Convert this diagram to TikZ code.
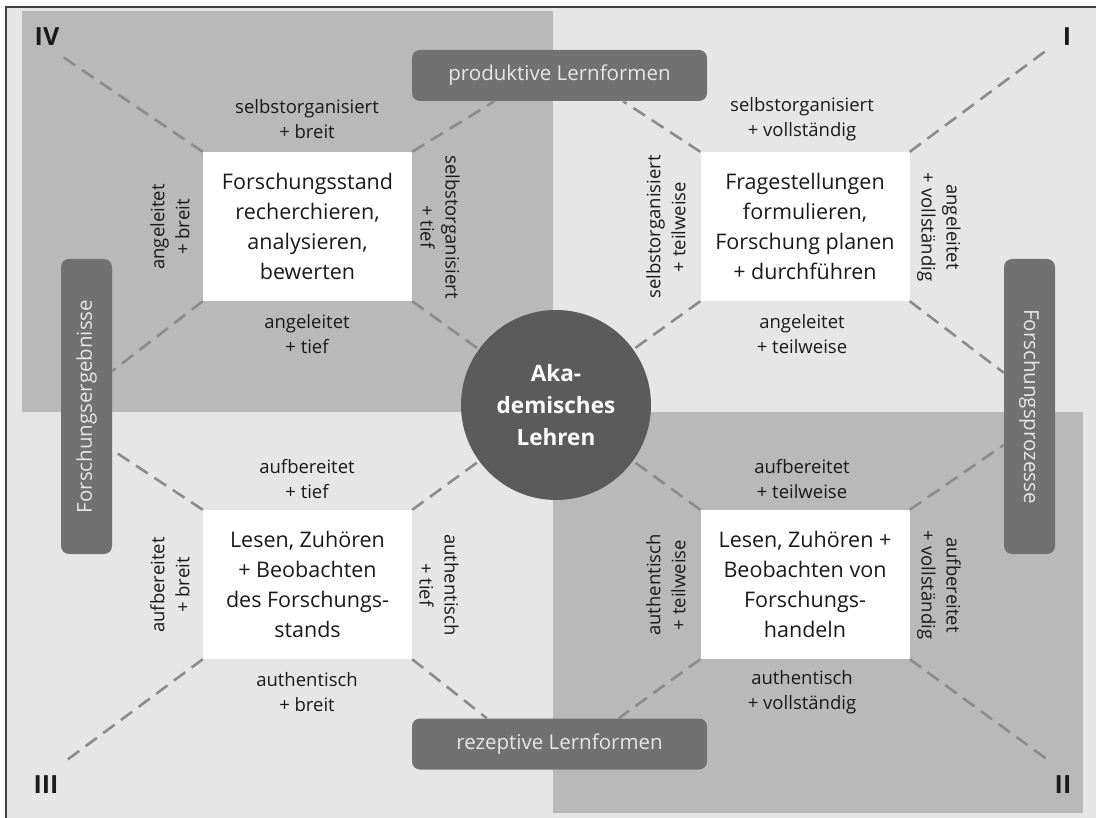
\documentclass[tikz,border=0pt]{standalone}
\usepackage{fontspec}
\setmainfont{Open Sans}
\usetikzlibrary{calc}
\definecolor{hell}{HTML}{E6E6E6}
\definecolor{mittel}{HTML}{B9B9B9}
\definecolor{kasten}{HTML}{717171}
\definecolor{kreis}{HTML}{5B5B5B}
\definecolor{strich}{HTML}{8C8C8C}
\definecolor{schrift}{HTML}{1A1A1A}

\begin{document}
\begin{tikzpicture}[x=1pt,y=-1pt,
    feld/.style={fill=white,minimum width=209pt,minimum height=149pt,inner sep=0pt,align=center,text=schrift,font=\fontsize{21.5}{30}\selectfont},
    lform/.style={fill=kasten,rounded corners=8pt,inner sep=0pt,text=hell,font=\fontsize{20.5}{24}\selectfont},
    lab/.style={align=center,text=schrift,font=\fontsize{18.5}{25}\selectfont},
    nr/.style={text=schrift,font=\fontsize{25}{25}\selectfont\bfseries},
    dashline/.style={strich,line width=2.6pt,dash pattern=on 14pt off 8pt}]
          \useasboundingbox (0,0) rectangle (1096,818);
          \fill[hell] (6,7) rectangle (1096,818);
          \fill[mittel] (22,11) rectangle (553,412);
          \fill[mittel] (553,412) rectangle (1083,813);
          \draw[black!75,line width=1.2pt] (1096,7)--(6,7)--(6,818);
          \node[lform,minimum width=295pt,minimum height=51pt] (P) at (559.5,75.5) {produktive Lernformen};
          \node[lform,minimum width=295pt,minimum height=51pt] (R) at (559.5,744) {rezeptive Lernformen};
          \node[lform,minimum width=51pt,minimum height=295pt] (E) at (86.5,406.5) {\rotatebox{90}{Forschungsergebnisse}};
          \node[lform,minimum width=51pt,minimum height=295pt] (Z) at (1029.5,406.5) {\rotatebox{-90}{Forschungsprozesse}};
          \node[circle,fill=kreis,minimum size=190pt,inner sep=0pt,align=center,text=white,font=\fontsize{22.5}{32}\selectfont\bfseries] (K) at (556,405) {Aka-\\demisches\\Lehren};
          \node[feld] (Q4) at (307.5,226.5) {Forschungsstand\\recherchieren,\\analysieren,\\bewerten};
          \node[feld] (Q1) at (805,226.5) {Fragestellungen\\formulieren,\\Forschung planen\\+ durchführen};
          \node[feld] (Q3) at (307.5,584.5) {Lesen, Zuhören\\+ Beobachten\\des Forschungs-\\stands};
          \node[feld] (Q2) at (805,584.5) {Lesen, Zuhören +\\Beobachten von\\Forschungs-\\handeln};
          \node[nr] (n4) at (47,37) {IV};
          \node[nr] (n1) at (1067,37) {I};
          \node[nr] (n3) at (46,785) {III};
          \node[nr] (n2) at (1063,785) {II};
          \coordinate (e4) at (60,55);
          \coordinate (e1) at (1047,50);
          \coordinate (e3) at (63,763);
          \coordinate (e2) at (1048,760);
          \draw[dashline] (Q4.north west)--(e4);
          \draw[dashline] (Q4.north east)--($(P.south west)!0.28!(P.south east)$);
          \draw[dashline] (Q4.south west)--($(E.north east)!0.38!(E.south east)$);
          \draw[dashline] (Q4.south east)--(K);
          \draw[dashline] (Q1.north west)--($(P.south west)!0.715!(P.south east)$);
          \draw[dashline] (Q1.north east)--(e1);
          \draw[dashline] (Q1.south west)--(K);
          \draw[dashline] (Q1.south east)--($(Z.north west)!0.386!(Z.south west)$);
          \draw[dashline] (Q3.north west)--($(E.north east)!0.647!(E.south east)$);
          \draw[dashline] (Q3.north east)--(K);
          \draw[dashline] (Q3.south west)--(e3);
          \draw[dashline] (Q3.south east)--($(R.north west)!0.254!(R.north east)$);
          \draw[dashline] (Q2.north west)--(K);
          \draw[dashline] (Q2.north east)--($(Z.north west)!0.63!(Z.south west)$);
          \draw[dashline] (Q2.south west)--($(R.north west)!0.7!(R.north east)$);
          \draw[dashline] (Q2.south east)--(e2);
          \node[lab] (o4) at (307,119) {selbstorganisiert\\+ breit};
          \node[lab,rotate=90] (w4) at (170,227) {angeleitet\\+ breit};
          \node[lab,rotate=-90] (r4) at (440,227) {selbstorganisiert\\+ tief};
          \node[lab] (u4) at (307,334) {angeleitet\\+ tief};
          \node[lab] (o1) at (802,119) {selbstorganisiert\\+ vollständig};
          \node[lab,rotate=90] (w1) at (666,227) {selbstorganisiert\\+ teilweise};
          \node[lab,rotate=-90] (r1) at (939,227) {angeleitet\\+ vollständig};
          \node[lab] (u1) at (802,334) {angeleitet\\+ teilweise};
          \node[lab] (o3) at (307,479) {aufbereitet\\+ tief};
          \node[lab,rotate=90] (w3) at (170,585) {aufbereitet\\+ breit};
          \node[lab,rotate=-90] (r3) at (439,585) {authentisch\\+ tief};
          \node[lab] (u3) at (307,692) {authentisch\\+ breit};
          \node[lab] (o2) at (802,479) {aufbereitet\\+ teilweise};
          \node[lab,rotate=90] (w2) at (666,585) {authentisch\\+ teilweise};
          \node[lab,rotate=-90] (r2) at (939,585) {aufbereitet\\+ vollständig};
          \node[lab] (u2) at (802,692) {authentisch\\+ vollständig};
        \end{tikzpicture}
\end{document}
